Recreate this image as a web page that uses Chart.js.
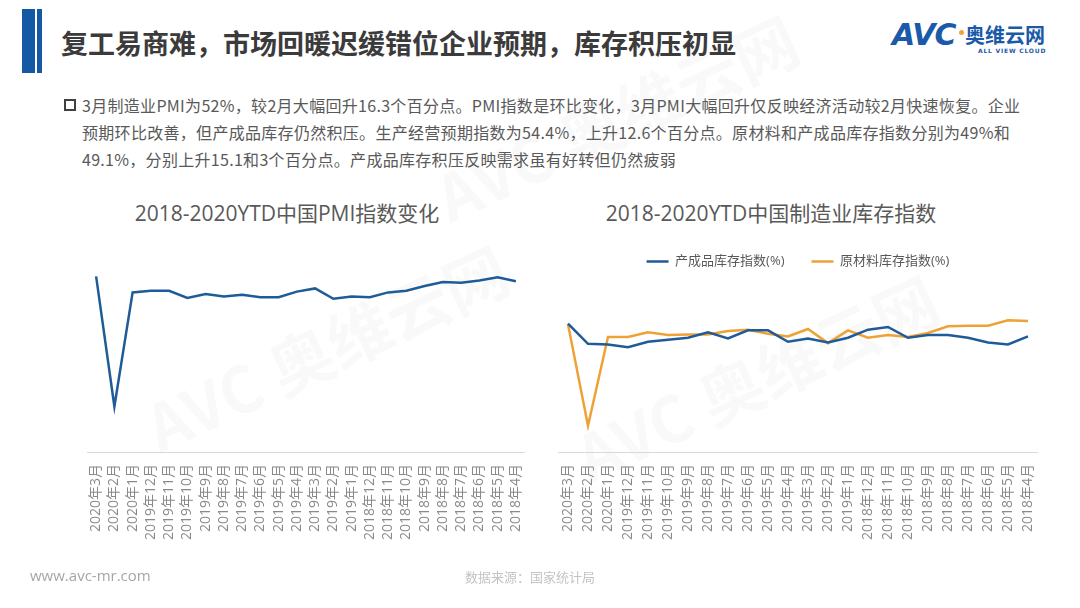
<!DOCTYPE html>
<html>
<head>
<meta charset="utf-8">
<script src="https://cdn.jsdelivr.net/npm/chart.js@4/dist/chart.umd.min.js"></script>
<style>
  html, body { margin: 0; padding: 0; }
  body { width: 1080px; height: 608px; position: relative; overflow: hidden; background: #fff;
         font-family: 'Open Sans', 'Noto Sans CJK SC', sans-serif; }
  .abs { position: absolute; }
  .bar1 { left: 22px; top: 9px; width: 13px; height: 64px; background: #1558a3; }
  .bar2 { left: 37px; top: 9px; width: 5px; height: 64px; background: #1558a3; }
  .head { left: 61px; top: 23px; font-size: 27px; font-weight: bold; color: #3b3b3b;
          font-family: 'Noto Sans CJK SC', sans-serif; white-space: nowrap; }
  .logo { left: 892px; top: 22px; width: 170px; height: 40px; }
  .avc { left: 0; top: -5px; font-size: 30px; font-weight: bold; font-style: italic; color: #1a5aa8;
         font-family: 'DejaVu Sans', sans-serif; letter-spacing: -1px; }
  .dot { left: 67px; top: 8px; width: 5px; height: 5px; border-radius: 50%; background: #f2a33a; }
  .cn { left: 73px; top: -2px; font-size: 20px; font-weight: bold; color: #1a5aa8;
        font-family: 'Noto Sans CJK SC', sans-serif; }
  .en { left: 86px; top: 25px; font-size: 6px; font-weight: bold; color: #1a5aa8; letter-spacing: 0.8px;
        font-family: 'DejaVu Sans', sans-serif; }
  .para { left: 64px; top: 92px; font-size: 16px; color: #595959; line-height: 27px; letter-spacing: 0.3px;
          font-family: 'Noto Sans CJK SC', sans-serif; white-space: nowrap; }
  .para .box { display: inline-block; width: 8px; height: 8px; border: 2px solid #404040; margin-right: 6px;
               vertical-align: 1px; }
  .para .l2 { padding-left: 18px; }
  .ctitle { top: 197px; font-size: 21px; color: #595959; white-space: nowrap; transform: translateX(-50%); }
  .foot1 { left: 30px; top: 565px; font-size: 15px; color: #a6a6a6; }
  .foot2 { left: 465px; top: 567px; font-size: 13px; color: #c4c4c4; font-family: 'Noto Sans CJK SC', sans-serif; }
  .wm { font-size: 64px; font-weight: bold; color: rgba(0,0,0,0.022); transform: rotate(-25deg);
        white-space: nowrap; font-family: 'Noto Sans CJK SC', sans-serif; }
</style>
</head>
<body>
<div class="abs wm" style="left:130px; top:300px;">AVC 奥维云网</div>
<div class="abs wm" style="left:560px; top:330px;">AVC 奥维云网</div>
<div class="abs wm" style="left:420px; top:70px;">AVC 奥维云网</div>

<div class="abs bar1"></div>
<div class="abs bar2"></div>
<div class="abs head">复工易商难，市场回暖迟缓错位企业预期，库存积压初显</div>
<div class="abs logo">
  <div class="abs avc">AVC</div>
  <div class="abs dot"></div>
  <div class="abs cn">奥维云网</div>
  <div class="abs en">ALL VIEW CLOUD</div>
</div>

<div class="abs para">
  <div><span class="box"></span>3月制造业PMI为52%，较2月大幅回升16.3个百分点。PMI指数是环比变化，3月PMI大幅回升仅反映经济活动较2月快速恢复。企业</div>
  <div class="l2">预期环比改善，但产成品库存仍然积压。生产经营预期指数为54.4%，上升12.6个百分点。原材料和产成品库存指数分别为49%和</div>
  <div class="l2">49.1%，分别上升15.1和3个百分点。产成品库存积压反映需求虽有好转但仍然疲弱</div>
</div>

<div class="abs ctitle" style="left:287px;">2018-2020YTD中国PMI指数变化</div>
<div class="abs ctitle" style="left:771px;">2018-2020YTD中国制造业库存指数</div>

<div class="abs" style="left:87px; top:240px; width:438px; height:330px;"><canvas id="pmiChart"></canvas></div>
<div class="abs" style="left:558px; top:226px; width:480px; height:344px;"><canvas id="stockChart"></canvas></div>

<div class="abs foot1">www.avc-mr.com</div>
<div class="abs foot2">数据来源：国家统计局</div>

<script>
// Months, newest first (as in the source)
const months = ['2020年3月', '2020年2月', '2020年1月',
    '2019年12月', '2019年11月', '2019年10月', '2019年9月', '2019年8月', '2019年7月',
    '2019年6月', '2019年5月', '2019年4月', '2019年3月', '2019年2月', '2019年1月',
    '2018年12月', '2018年11月', '2018年10月', '2018年9月', '2018年8月', '2018年7月',
    '2018年6月', '2018年5月', '2018年4月'];

const pmi = [52.0, 35.7, 50.0, 50.2, 50.2, 49.3, 49.8, 49.5, 49.7, 49.4, 49.4, 50.1,
    50.5, 49.2, 49.5, 49.4, 50.0, 50.2, 50.8, 51.3, 51.2, 51.5, 51.9, 51.4];

const finishedStock = [49.1, 46.1, 46.0, 45.6, 46.4, 46.7, 47.0, 47.8, 46.9, 48.1, 48.1, 46.4,
    46.9, 46.3, 47.0, 48.2, 48.6, 47.0, 47.4, 47.4, 47.0, 46.3, 46.0, 47.2];

const rawStock = [49.0, 33.9, 47.1, 47.1, 47.8, 47.4, 47.5, 47.5, 48.0, 48.2, 47.6, 47.2,
    48.3, 46.2, 48.1, 47.0, 47.4, 47.1, 47.7, 48.7, 48.8, 48.8, 49.6, 49.5];

const blue = '#1f5b98';
const orange = '#eea236';
const tickFont = { family: "'Open Sans', 'Noto Sans CJK SC', sans-serif", size: 14 };

function xAxis() {
    return {
        offset: true,
        grid: { display: false, drawTicks: false },
        border: { display: true, color: '#d9d9d9', width: 1 },
        ticks: { color: '#8a8a8a', font: tickFont, maxRotation: 90, minRotation: 90, padding: 12, autoSkip: false },
        afterFit: s => {
            s.height = 118;
            s.paddingLeft = 0;
            s.paddingRight = 0;
        }
    };
}

function yAxis() {
    return { display: false, min: 30, max: 55 };
}

// extra space under the legend
const legendGap = {
    id: 'legendGap',
    beforeInit(chart) {
        const fit = chart.legend.fit;
        chart.legend.fit = function() {
            fit.bind(chart.legend)();
            this.height += 6;
        };
    }
};

// PMI chart
new Chart(document.getElementById('pmiChart'), {
    type: 'line',
    data: {
        labels: months,
        datasets: [{
            label: 'PMI',
            data: pmi,
            borderColor: blue,
            borderWidth: 2.5,
            pointRadius: 0,
            tension: 0
        }]
    },
    options: {
        responsive: true,
        maintainAspectRatio: false,
        animation: false,
        layout: { padding: { top: 12.5, left: 0, right: 0, bottom: 0 } },
        plugins: { legend: { display: false }, tooltip: { enabled: false } },
        scales: { x: xAxis(), y: yAxis() }
    }
});

// Inventory chart
new Chart(document.getElementById('stockChart'), {
    type: 'line',
    data: {
        labels: months,
        datasets: [{
            label: '产成品库存指数(%)',
            data: finishedStock,
            borderColor: blue,
            backgroundColor: blue,
            borderWidth: 2.5,
            pointRadius: 0,
            pointStyle: 'line',
            tension: 0
        }, {
            label: '原材料库存指数(%)',
            data: rawStock,
            borderColor: orange,
            backgroundColor: orange,
            borderWidth: 2.5,
            pointRadius: 0,
            pointStyle: 'line',
            tension: 0
        }]
    },
    options: {
        responsive: true,
        maintainAspectRatio: false,
        animation: false,
        layout: { padding: { top: 2, left: 0, right: 0, bottom: 0 } },
        plugins: {
            tooltip: { enabled: false },
            legend: {
                position: 'top',
                labels: {
                    usePointStyle: true,
                    pointStyleWidth: 22,
                    color: '#595959',
                    font: { family: "'Open Sans', 'Noto Sans CJK SC', sans-serif", size: 13 },
                    padding: 27
                }
            }
        },
        scales: { x: xAxis(), y: yAxis() }
    },
    plugins: [legendGap]
});
</script>
</body>
</html>
